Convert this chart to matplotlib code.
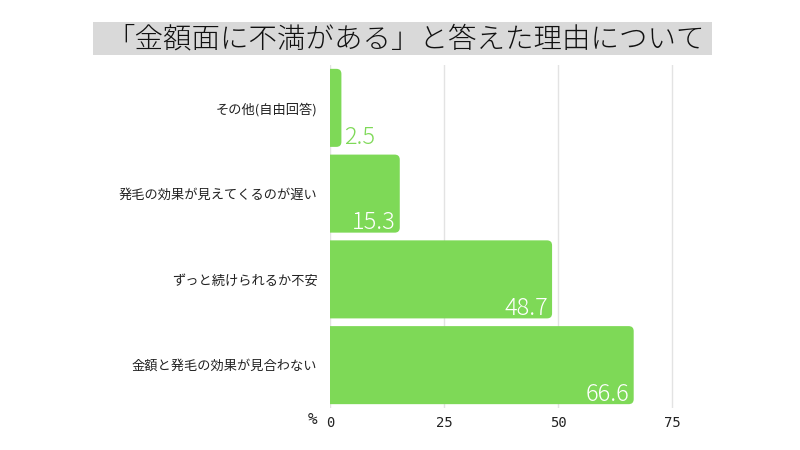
import matplotlib
matplotlib.use('Agg')
import matplotlib.pyplot as plt
from matplotlib.patches import FancyBboxPatch, Rectangle

plt.rcParams['font.family'] = ['Noto Sans CJK JP', 'DejaVu Sans']

title = '「金額面に不満がある」と答えた理由について'
reasons = ['金額と発毛の効果が見合わない', 'ずっと続けられるか不安',
           '発毛の効果が見えてくるのが遅い', 'その他(自由回答)']
percents = [66.6, 48.7, 15.3, 2.5]
ticks = [0, 25, 50, 75]

bar_color = '#7ed957'

fig = plt.figure(figsize=(8, 4.5), dpi=100)
ax = fig.add_axes([0.4125, 0.0933, 0.456, 0.7623])

# title in a grey box
fig.patches.append(Rectangle((93 / 800, 1 - 55 / 450), (712 - 93) / 800, 33 / 450,
                             transform=fig.transFigure, facecolor='#d9d9d9',
                             edgecolor='none', zorder=0))
fig.text(406 / 800, 1 - 39 / 450, title, ha='center', va='center',
         fontsize=20.5, fontweight='light', color='#111111')

bars = ax.barh(range(len(reasons)), percents, height=0.91, color='none')

# rounded right corners, left side clipped at x=0
r = 1.1
for b, v in zip(bars, percents):
    x, y = b.get_x(), b.get_y()
    w, h = b.get_width(), b.get_height()
    p = FancyBboxPatch((x - 2 * r, y), w + 2 * r, h,
                       boxstyle=f'round,pad=0,rounding_size={r}',
                       mutation_aspect=0.053, facecolor=bar_color,
                       edgecolor='none', zorder=2)
    ax.add_patch(p)
    if v < 5:
        ax.annotate(f'{v}', (v, y), xytext=(2, -2), textcoords='offset points',
                    ha='left', va='bottom', color=bar_color, fontsize=17,
                    fontweight='light', zorder=3)
    else:
        ax.annotate(f'{v}', (v, y), xytext=(-3, -2), textcoords='offset points',
                    ha='right', va='bottom', color='white', fontsize=17,
                    fontweight='light', zorder=3)

ax.set_xlim(0, 80)
ax.set_ylim(-0.5, len(reasons) - 0.5)
ax.set_xticks(ticks)
ax.set_xticklabels([str(t) for t in ticks], family='DejaVu Sans Mono',
                   fontsize=10, color='#222222')
ax.set_yticks(range(len(reasons)))
ax.set_yticklabels(reasons, fontsize=9.5, color='#222222')
ax.tick_params(length=0)
ax.tick_params(axis='y', pad=9)
ax.tick_params(axis='x', pad=6)
ax.grid(axis='x', color='#e3e3e3', linewidth=1)
ax.set_axisbelow(True)
for s in ax.spines.values():
    s.set_visible(False)

fig.text(313 / 800, 1 - 420 / 450, '%', ha='center', va='center',
         family='DejaVu Sans Mono', fontsize=11.5, color='#222222')

fig.savefig('out.png', dpi=100)
